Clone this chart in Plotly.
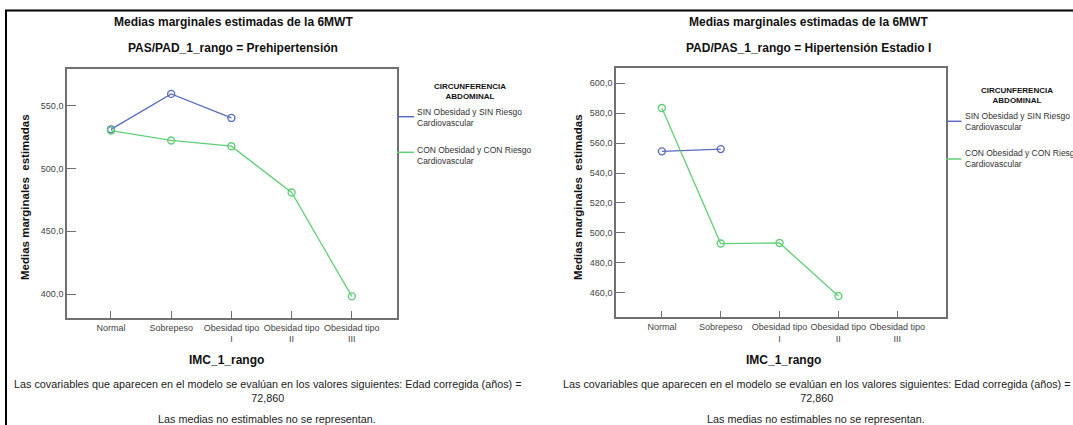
import plotly.graph_objects as go

W, H = 1073, 425

# Categories of IMC_1_rango and their axis labels
categories = ["Normal", "Sobrepeso", "Obesidad tipo I", "Obesidad tipo II", "Obesidad tipo III"]
tick_labels = ["Normal", "Sobrepeso", "Obesidad tipo<br>I", "Obesidad tipo<br>II", "Obesidad tipo<br>III"]

series_names = ["SIN Obesidad y SIN Riesgo<br>Cardiovascular",
                "CON Obesidad y CON Riesgo<br>Cardiovascular"]

# Panel 1: PAS/PAD_1_rango = Prehipertensión
pre_sin = [531.0, 559.2, 540.1, None, None]
pre_con = [530.0, 522.2, 517.6, 480.8, 398.2]

# Panel 2: PAD/PAS_1_rango = Hipertensión Estadio I
hip_sin = [554.5, 556.0, None, None, None]
hip_con = [583.5, 492.9, 493.3, 457.8, None]

left_ticks = [400, 450, 500, 550]
right_ticks = [460, 480, 500, 520, 540, 560, 580, 600]

BLUE = "#5a6cc0"
GREEN = "#62cf78"
AXIS = "#707070"
FONT = "Liberation Sans, Arial, sans-serif"


def px(x):
    return x / W


def py(y):
    return 1 - y / H


fig = go.Figure()


def add_series(y, color, xa, ya):
    fig.add_trace(go.Scatter(
        x=categories, y=y, mode="lines+markers", xaxis=xa, yaxis=ya,
        line=dict(color=color, width=1.3),
        marker=dict(symbol="circle-open", size=7, color=color, line=dict(width=1.4)),
        connectgaps=False, showlegend=False, hoverinfo="skip"))


add_series(pre_sin, BLUE, "x", "y")
add_series(pre_con, GREEN, "x", "y")
add_series(hip_sin, BLUE, "x2", "y2")
add_series(hip_con, GREEN, "x2", "y2")

xcommon = dict(type="category", categoryorder="array", categoryarray=categories,
               tickvals=categories, ticktext=tick_labels,
               showline=True, mirror=True, linecolor=AXIS, linewidth=1.6,
               ticks="inside", ticklen=7, tickcolor=AXIS, tickwidth=1,
               showgrid=False, zeroline=False,
               tickfont=dict(family=FONT, size=9, color="#444"))
ycommon = dict(showline=True, mirror=True, linecolor=AXIS, linewidth=1.6,
               ticks="inside", ticklen=9, tickcolor=AXIS, tickwidth=1,
               showgrid=False, zeroline=False, tickformat=".1f",
               tickfont=dict(family=FONT, size=9, color="#444"))

fig.update_layout(
    width=W, height=H, autosize=False,
    margin=dict(l=0, r=0, t=0, b=0),
    paper_bgcolor="white", plot_bgcolor="white",
    separators=",.",
    xaxis=dict(**xcommon, domain=[px(67), px(397)], range=[-0.73, 4.75], anchor="y"),
    yaxis=dict(**ycommon, domain=[py(318), py(69)], range=[381, 579],
               tickvals=left_ticks, anchor="x"),
    xaxis2=dict(**xcommon, domain=[px(616), px(946)], range=[-0.78, 4.83], anchor="y2"),
    yaxis2=dict(**ycommon, domain=[py(317.3), py(68.3)], range=[443.6, 610.0],
                tickvals=right_ticks, anchor="x2"),
)

ann = []


def text(x, y, s, size, bold=False, color="#111", xanchor="center", angle=0, align="center"):
    ann.append(dict(x=px(x), y=py(y), xref="paper", yref="paper", text=f"<b>{s}</b>" if bold else s,
                    showarrow=False, xanchor=xanchor, yanchor="middle", textangle=angle,
                    align=align, font=dict(family=FONT, size=size, color=color)))


panels = [
    dict(cx_title=233, title2="PAS/PAD_1_rango = Prehipertensión", ytitle_x=25, ytitle_y=197,
         xtitle_x=226, foot_x=267, legend_end=397, legend_x=415, legend_title_x=470,
         legend_title_y=91.3, leg_lines=[116.7, 152.3], leg_text=[117.5, 155.3]),
    dict(cx_title=808, title2="PAD/PAS_1_rango = Hipertensión Estadio I", ytitle_x=578, ytitle_y=197,
         xtitle_x=783, foot_x=816, legend_end=946, legend_x=962.5, legend_title_x=1017,
         legend_title_y=96, leg_lines=[121.3, 159], leg_text=[121.7, 158.3]),
]

shapes = []
for p in panels:
    text(p["cx_title"], 22, "Medias marginales estimadas de la 6MWT", 12, bold=True)
    text(p["cx_title"], 48, p["title2"], 12, bold=True)
    text(p["ytitle_x"], p["ytitle_y"], "Medias marginales  estimadas", 11.5, bold=True, angle=-90)
    text(p["xtitle_x"], 360, "IMC_1_rango", 12, bold=True)
    text(p["foot_x"], 391, "Las covariables que aparecen en el modelo se evalúan en los valores "
         "siguientes: Edad corregida (años) =<br>72,860", 10.8, color="#222")
    text(p["foot_x"], 418.5, "Las medias no estimables no se representan.", 10.8, color="#222")
    text(p["legend_title_x"], p["legend_title_y"], "CIRCUNFERENCIA<br>ABDOMINAL", 8, bold=True)
    for name, color, ly, ty in zip(series_names, [BLUE, GREEN], p["leg_lines"], p["leg_text"]):
        shapes.append(dict(type="line", xref="paper", yref="paper",
                           x0=px(p["legend_end"]), x1=px(p["legend_x"] - 1),
                           y0=py(ly), y1=py(ly), line=dict(color=color, width=1.5)))
        text(p["legend_x"], ty, name, 8.5, color="#333", xanchor="left", align="left")

# Outer frame of the output page
shapes.append(dict(type="line", xref="paper", yref="paper", x0=px(5), x1=1, y0=py(10.5), y1=py(10.5),
                   line=dict(color="black", width=2)))
shapes.append(dict(type="line", xref="paper", yref="paper", x0=px(6), x1=px(6), y0=py(10), y1=0,
                   line=dict(color="black", width=2)))

fig.update_layout(annotations=ann, shapes=shapes)

fig.write_html("out.html")
